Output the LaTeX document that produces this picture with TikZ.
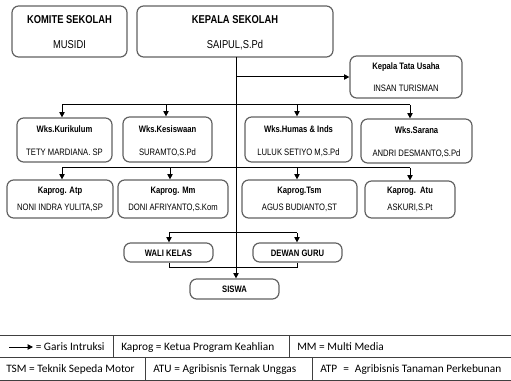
\documentclass[tikz,border=0pt]{standalone}
\usepackage{fontspec}
\newfontfamily\nar[FakeStretch=0.82]{Liberation Sans}
\newfontfamily\leg{Carlito}
\usetikzlibrary{fit,arrows.meta}
\begin{document}
\begin{tikzpicture}[x=0.75pt,y=-0.75pt,
  box/.style={draw=black!62, line width=0.9pt, rounded corners=5pt, inner sep=0pt, fill=white},
  tbig/.style={font={\nar\bfseries\fontsize{8.55pt}{10pt}\selectfont}, inner sep=0pt, anchor=base},
  nbig/.style={font={\nar\fontsize{8.55pt}{10pt}\selectfont}, inner sep=0pt, anchor=base},
  tsm/.style={font={\nar\bfseries\fontsize{7pt}{8pt}\selectfont}, inner sep=0pt, anchor=base},
  nsm/.style={font={\nar\fontsize{7pt}{8pt}\selectfont}, inner sep=0pt, anchor=base},
  conn/.style={draw=black, line width=0.75pt},
  arr/.style={conn, -{Triangle[length=4pt,width=4pt]}},
  legline/.style={draw=black!75, line width=0.7pt},
  legtxt/.style={font={\leg\fontsize{8.5pt}{10pt}\selectfont}, inner sep=0pt, anchor=base west}]
\useasboundingbox[fill=white] (0,0) rectangle (511,381);

% boxes
\node[box, fit={(12,6) (127,57)}] (komite) {};
\node[box, fit={(137,6) (333,57)}] (kepala) {};
\node[box, fit={(350,56) (462,98)}] (ktu) {};
\node[box, fit={(17,118) (112,162)}] (wkur) {};
\node[box, fit={(123,117) (212,162)}] (wkes) {};
\node[box, fit={(245,117) (352,162)}] (whum) {};
\node[box, fit={(361,119) (472,163)}] (wsar) {};
\node[box, fit={(7,180) (113,218)}] (katp) {};
\node[box, fit={(118,180) (228,218)}] (kmm) {};
\node[box, fit={(242,180) (357,218)}] (ktsm) {};
\node[box, fit={(365,181) (455,218)}] (katu) {};
\node[box, fit={(124,243) (213,262)}] (wali) {};
\node[box, fit={(253,243) (342,262)}] (dewan) {};
\node[box, fit={(190,279) (279,299)}] (siswa) {};

% texts
\node[tbig] (komite-t) at (69.5,24) {KOMITE SEKOLAH};
\node[nbig] (komite-n) at (69.5,49) {MUSIDI};
\node[tbig] (kepala-t) at (235,24) {KEPALA SEKOLAH};
\node[nbig] (kepala-n) at (235,49) {SAIPUL,S.Pd};
\node[tsm] (ktu-t) at (406,70) {Kepala Tata Usaha};
\node[nsm] (ktu-n) at (406,92) {INSAN TURISMAN};
\node[tsm] (wkur-t) at (64.5,133) {Wks.Kurikulum};
\node[nsm] (wkur-n) at (64.5,156) {TETY MARDIANA. SP};
\node[tsm] (wkes-t) at (167.5,132.5) {Wks.Kesiswaan};
\node[nsm] (wkes-n) at (167.5,156) {SURAMTO,S.Pd};
\node[tsm] (whum-t) at (298.5,133) {Wks.Humas \& Inds};
\node[nsm] (whum-n) at (298.5,155.5) {LULUK SETIYO M,S.Pd};
\node[tsm] (wsar-t) at (416.5,134) {Wks.Sarana};
\node[nsm] (wsar-n) at (416.5,157) {ANDRI DESMANTO,S.Pd};
\node[tsm] (katp-t) at (60,194) {Kaprog. Atp};
\node[nsm] (katp-n) at (60,211) {NONI INDRA YULITA,SP};
\node[tsm] (kmm-t) at (173,194) {Kaprog. Mm};
\node[nsm] (kmm-n) at (173,211) {DONI AFRIYANTO,S.Kom};
\node[tsm] (ktsm-t) at (299.5,194) {Kaprog.Tsm};
\node[nsm] (ktsm-n) at (299.5,211) {AGUS BUDIANTO,ST};
\node[tsm] (katu-t) at (410,194) {Kaprog.\ \ Atu};
\node[nsm] (katu-n) at (410,211) {ASKURI,S.Pt};
\node[tsm] (wali-t) at (168.5,257) {WALI KELAS};
\node[tsm] (dewan-t) at (297.5,257) {DEWAN GURU};
\node[tsm] (siswa-t) at (234.5,292) {SISWA};

% bus coordinates
\coordinate (t0) at (236,57);
\coordinate (b1a) at (62,105);
\coordinate (b1b) at (166,105);
\coordinate (b1c) at (297,105);
\coordinate (b1d) at (410,105);
\coordinate (b2a) at (62,168);
\coordinate (b2b) at (170,168);
\coordinate (b2c) at (297,168);
\coordinate (b2d) at (410,168);
\coordinate (b3a) at (169,233);
\coordinate (b3b) at (297,233);
\coordinate (b4a) at (169,268);
\coordinate (b4b) at (297,268);

% connectors
\draw[arr] (t0) -- (t0 |- siswa.north);
\draw[arr] (t0 |- ktu.west) -- (ktu.west);
\draw[conn] (b1a) -- (b1d);
\draw[arr] (b1a) -- (b1a |- wkur.north);
\draw[arr] (b1b) -- (b1b |- wkes.north);
\draw[arr] (b1c) -- (b1c |- whum.north);
\draw[arr] (b1d) -- (b1d |- wsar.north);
\draw[conn] (b2a) -- (b2d);
\draw[arr] (b2a) -- (b2a |- katp.north);
\draw[arr] (b2b) -- (b2b |- kmm.north);
\draw[arr] (b2c) -- (b2c |- ktsm.north);
\draw[arr] (b2d) -- (b2d |- katu.north);
\draw[conn] (b3a) -- (b3b);
\draw[arr] (b3a) -- (b3a |- wali.north);
\draw[arr] (b3b) -- (b3b |- dewan.north);
\draw[conn] (b4a |- wali.south) -- (b4a) -- (b4b) -- (b4b |- dewan.south);

% legend table
\draw[legline] (0,335) -- (511,335);
\draw[legline] (0,357) -- (511,357);
\draw[legline] (0,380) -- (511,380);
\draw[legline] (113,335) -- (113,357);
\draw[legline] (289,335) -- (289,357);
\draw[legline] (145,357) -- (145,380);
\draw[legline] (312,357) -- (312,380);
\coordinate (la) at (9,347);
\coordinate (lb) at (33,347);
\draw[arr] (la) -- (lb);
\node[legtxt] (l1) at (35.5,350.5) {= Garis Intruksi};
\node[legtxt] (l2) at (121,350.5) {Kaprog = Ketua Program Keahlian};
\node[legtxt] (l3) at (297,350.5) {MM = Multi Media};
\node[legtxt] (l4) at (6,372.5) {TSM = Teknik Sepeda Motor};
\node[legtxt] (l5) at (153,372.5) {ATU = Agribisnis Ternak Unggas};
\node[legtxt] (l6) at (320,372.5) {ATP\hspace{4.5pt}=\hspace{4.5pt}Agribisnis Tanaman Perkebunan};
\end{tikzpicture}
\end{document}
